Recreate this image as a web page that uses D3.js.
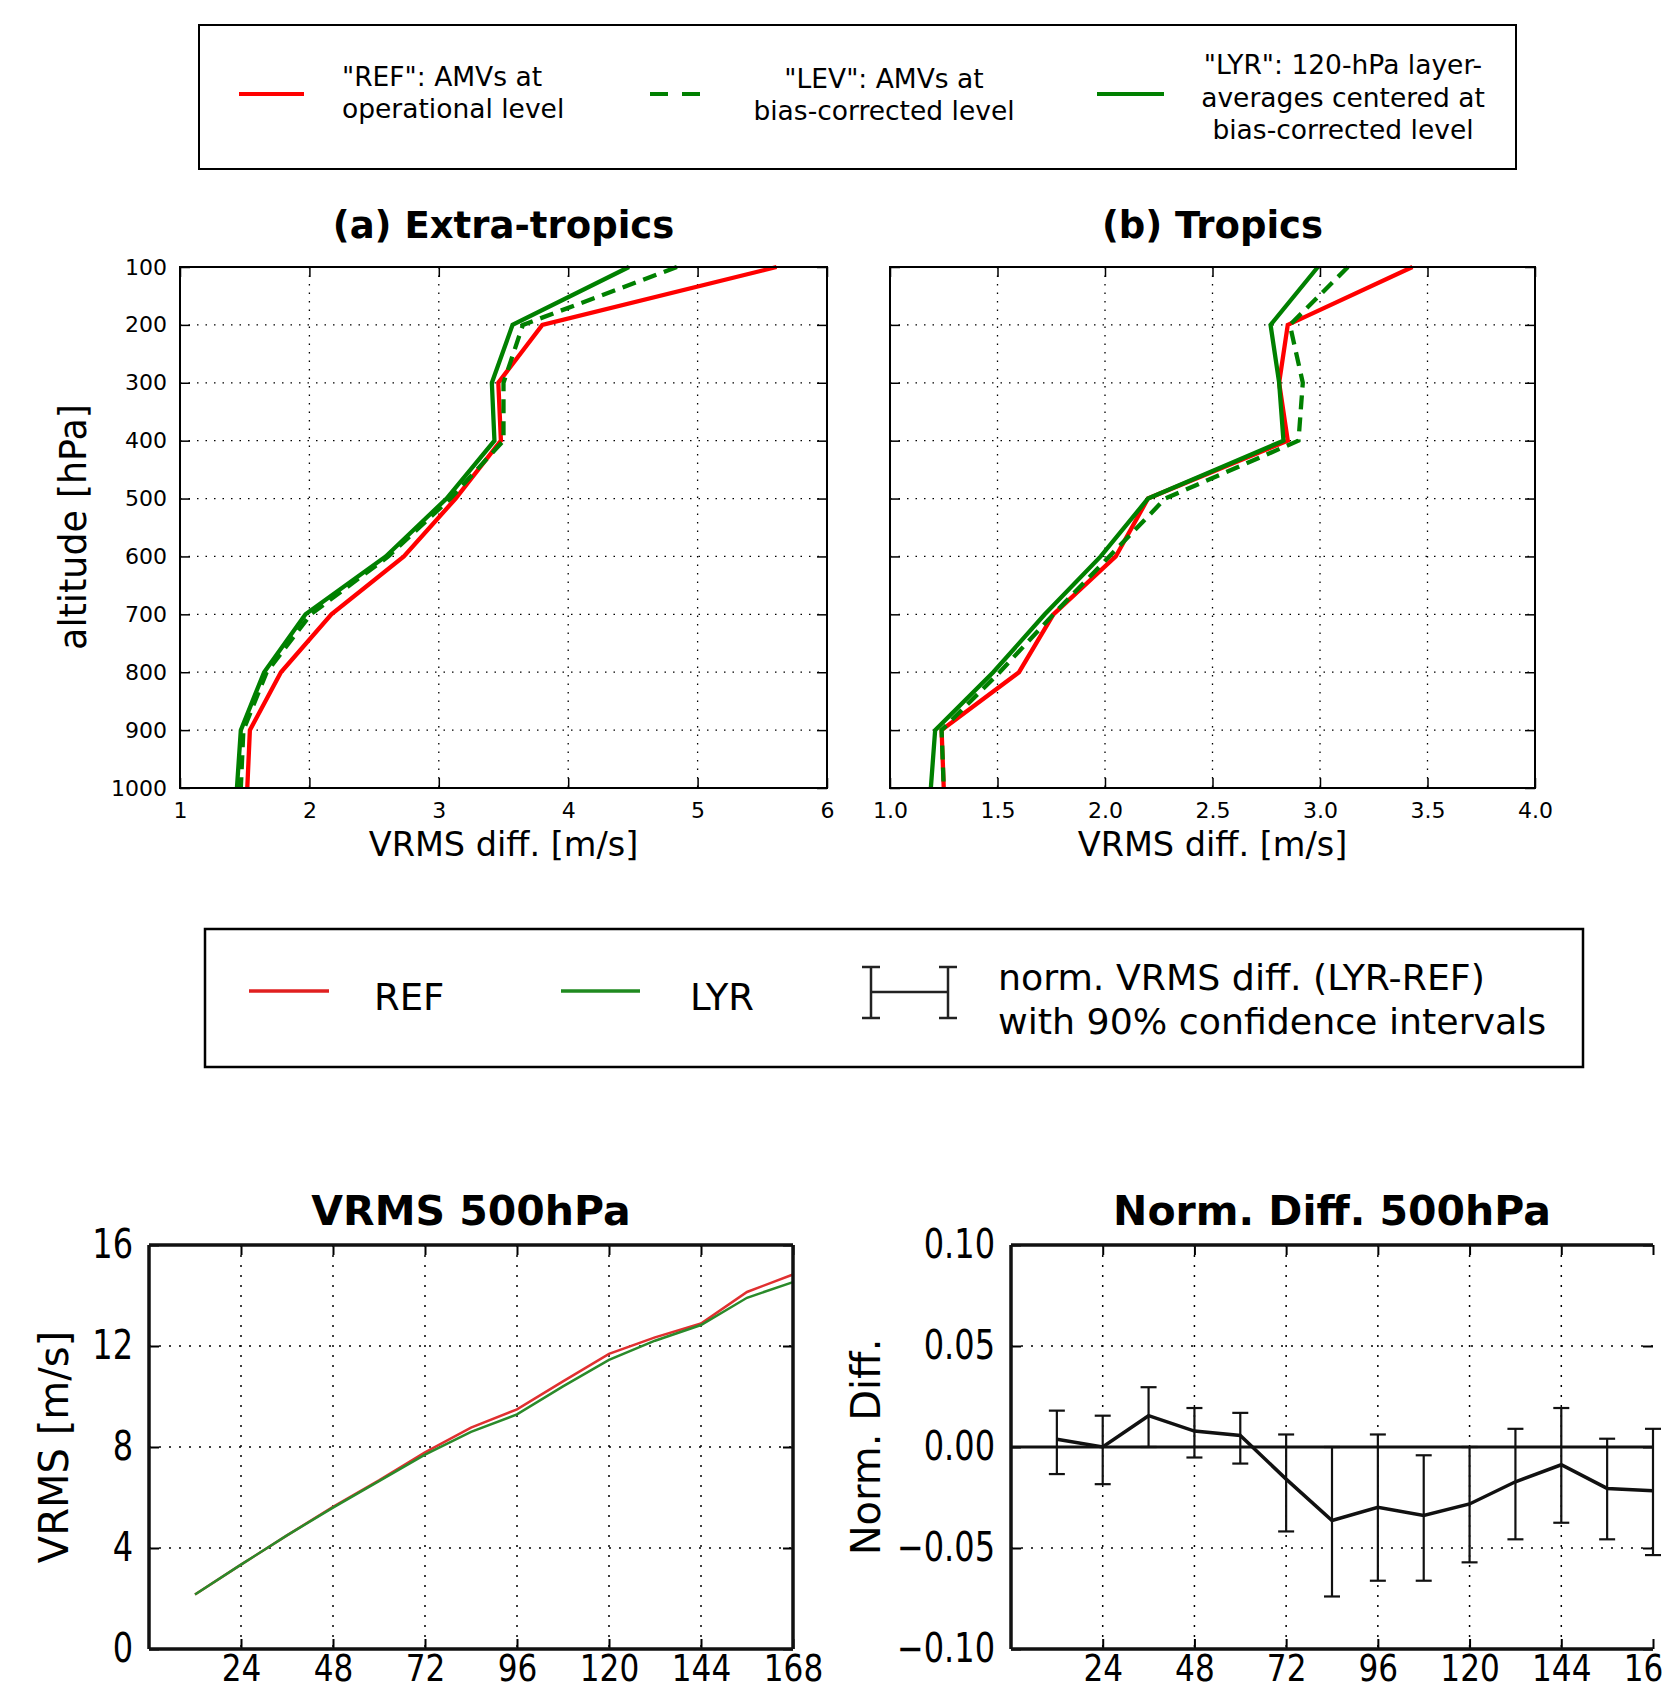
<!DOCTYPE html>
<html><head><meta charset="utf-8">
<script src="https://cdn.jsdelivr.net/npm/d3@7"></script>
<style>
body{margin:0;background:#fff}
svg{display:block}
text{font-family:"DejaVu Sans",sans-serif;fill:#000}
</style>
</head><body>
<svg id="c" width="1664" height="1690"></svg>
<script>
// ---------------- DATA ----------------
const pressureLevels = [100, 200, 300, 400, 500, 600, 700, 800, 900, 1000];
const extraREF = [5.61, 3.80, 3.46, 3.48, 3.13, 2.73, 2.17, 1.78, 1.54, 1.52];
const extraLEV = [4.84, 3.65, 3.50, 3.50, 3.09, 2.61, 2.01, 1.67, 1.49, 1.47];
const extraLYR = [4.47, 3.57, 3.41, 3.43, 3.06, 2.59, 1.97, 1.65, 1.47, 1.44];
const tropREF  = [3.43, 2.85, 2.81, 2.85, 2.20, 2.05, 1.76, 1.60, 1.24, 1.25];
const tropLEV  = [3.13, 2.86, 2.92, 2.90, 2.28, 2.02, 1.76, 1.51, 1.24, 1.25];
const tropLYR  = [2.99, 2.77, 2.81, 2.83, 2.20, 1.98, 1.72, 1.48, 1.21, 1.19];
const extraXTicks = [1, 2, 3, 4, 5, 6];
const tropXTicks = [1.0, 1.5, 2.0, 2.5, 3.0, 3.5, 4.0];

const leadHours = [12, 24, 36, 48, 60, 72, 84, 96, 108, 120, 132, 144, 156, 168];
const vrmsREF = [2.16, 3.34, 4.50, 5.63, 6.68, 7.79, 8.77, 9.49, 10.60, 11.69, 12.34, 12.89, 14.14, 14.83];
const vrmsLYR = [2.16, 3.34, 4.50, 5.60, 6.65, 7.70, 8.60, 9.29, 10.40, 11.45, 12.21, 12.83, 13.91, 14.53];
const normDiff = [0.0038, 0.0000, 0.0155, 0.0079, 0.0057, -0.0159, -0.0364, -0.0298, -0.0339, -0.0282, -0.0172, -0.0088, -0.0205, -0.0216];
const normHi   = [0.0180, 0.0155, 0.0296, 0.0193, 0.0169, 0.0062, 0.0000, 0.0062, -0.0041, 0.0000, 0.0090, 0.0193, 0.0041, 0.0090];
const normLo   = [-0.0134, -0.0184, 0.0000, -0.0052, -0.0082, -0.0418, -0.0740, -0.0662, -0.0662, -0.0571, -0.0457, -0.0375, -0.0457, -0.0535];
const hourTicks = [24, 48, 72, 96, 120, 144, 168];
const vrmsTicks = [0, 4, 8, 12, 16];
const normTicks = [-0.10, -0.05, 0.00, 0.05, 0.10];

const RED = "#ff0000", GREEN = "#008000";
const FONT = '"DejaVu Sans", sans-serif';
const svg = d3.select("#c");

function styleAxis(g, fs, sw) {
  g.attr("font-family", FONT).attr("font-size", fs);
  g.select(".domain").remove();
  g.selectAll(".tick line").attr("stroke", "#000").attr("stroke-width", sw);
  g.selectAll(".tick text").attr("fill", "#000");
}
function condense(g, sx) {
  g.selectAll(".tick text").each(function () {
    const t = d3.select(this);
    const xx = +t.attr("x") || 0;
    t.attr("x", 0).attr("transform", `translate(${xx},0) scale(${sx},1)`);
  });
}

// ---------------- TOP LEGEND ----------------
{
  const g = svg.append("g");
  g.append("rect").attr("x", 199).attr("y", 25).attr("width", 1317).attr("height", 144)
    .attr("fill", "#fff").attr("stroke", "#000").attr("stroke-width", 2);
  g.append("line").attr("x1", 239).attr("x2", 304).attr("y1", 94).attr("y2", 94)
    .attr("stroke", RED).attr("stroke-width", 4);
  g.append("line").attr("x1", 650).attr("x2", 700).attr("y1", 94).attr("y2", 94)
    .attr("stroke", GREEN).attr("stroke-width", 4).attr("stroke-dasharray", "18,14");
  g.append("line").attr("x1", 1097).attr("x2", 1164).attr("y1", 94).attr("y2", 94)
    .attr("stroke", GREEN).attr("stroke-width", 4);
  const t1 = [['"REF": AMVs at', 86], ['operational level', 118]];
  t1.forEach(([s, y]) => g.append("text").attr("x", 342).attr("y", y).attr("font-size", 26.5).text(s));
  const t2 = [['"LEV": AMVs at', 88], ['bias-corrected level', 120]];
  t2.forEach(([s, y]) => g.append("text").attr("x", 884).attr("y", y).attr("font-size", 26.5).attr("text-anchor", "middle").text(s));
  const t3 = [['"LYR": 120-hPa layer-', 74], ['averages centered at', 107], ['bias-corrected level', 139]];
  t3.forEach(([s, y]) => g.append("text").attr("x", 1343).attr("y", y).attr("font-size", 26.5).attr("text-anchor", "middle").text(s));
}

// ---------------- PROFILE PANELS ----------------
function profile(cfg) {
  const Y0 = 267, Y1 = 788;
  const x = d3.scaleLinear().domain(cfg.xd).range([cfg.x0, cfg.x1]);
  const y = d3.scaleLinear().domain([100, 1000]).range([Y0, Y1]);
  const g = svg.append("g");
  const grid = g.append("g").attr("stroke", "#000").attr("stroke-width", 1.3).attr("stroke-dasharray", "1.5,7");
  grid.selectAll(".gx").data(cfg.xt.filter(v => v > cfg.xd[0] && v < cfg.xd[1])).join("line")
    .attr("x1", d => x(d)).attr("x2", d => x(d)).attr("y1", Y0).attr("y2", Y1);
  grid.selectAll(".gy").data(pressureLevels.slice(1, -1)).join("line")
    .attr("y1", d => y(d)).attr("y2", d => y(d)).attr("x1", cfg.x0).attr("x2", cfg.x1);

  const line = d3.line().x(d => x(d[0])).y(d => y(d[1]));
  const series = [
    { v: cfg.ref, c: RED, dash: null },
    { v: cfg.lev, c: GREEN, dash: "14,8" },
    { v: cfg.lyr, c: GREEN, dash: null }
  ];
  series.forEach(s => {
    g.append("path").datum(s.v.map((v, i) => [v, pressureLevels[i]]))
      .attr("d", line).attr("fill", "none").attr("stroke", s.c).attr("stroke-width", 4.3)
      .attr("stroke-linejoin", "miter").attr("stroke-dasharray", s.dash);
  });

  const ab = g.append("g").attr("transform", `translate(0,${Y1})`)
    .call(d3.axisBottom(x).tickValues(cfg.xt).tickFormat(cfg.fmt).tickSizeInner(-10).tickSizeOuter(0).tickPadding(14));
  styleAxis(ab, 22, 1.5);
  const at = g.append("g").attr("transform", `translate(0,${Y0})`)
    .call(d3.axisTop(x).tickValues(cfg.xt).tickFormat("").tickSizeInner(-10).tickSizeOuter(0));
  styleAxis(at, 22, 1.5);
  const al = g.append("g").attr("transform", `translate(${cfg.x0},0)`)
    .call(d3.axisLeft(y).tickValues(pressureLevels).tickFormat(cfg.ylabels ? d3.format("d") : "").tickSizeInner(-10).tickSizeOuter(0).tickPadding(13));
  styleAxis(al, 22, 1.5);
  const ar = g.append("g").attr("transform", `translate(${cfg.x1},0)`)
    .call(d3.axisRight(y).tickValues(pressureLevels).tickFormat("").tickSizeInner(-10).tickSizeOuter(0));
  styleAxis(ar, 22, 1.5);

  g.append("rect").attr("x", cfg.x0).attr("y", Y0).attr("width", cfg.x1 - cfg.x0).attr("height", Y1 - Y0)
    .attr("fill", "none").attr("stroke", "#000").attr("stroke-width", 2);

  g.append("text").attr("x", (cfg.x0 + cfg.x1) / 2).attr("y", 238).attr("text-anchor", "middle")
    .attr("font-size", 37).attr("font-weight", "bold").text(cfg.title);
  g.append("text").attr("x", (cfg.x0 + cfg.x1) / 2).attr("y", 856).attr("text-anchor", "middle")
    .attr("font-size", 33.5).text("VRMS diff. [m/s]");
}

profile({ x0: 180, x1: 827, xd: [1, 6], xt: extraXTicks, fmt: d3.format("d"), ref: extraREF, lev: extraLEV, lyr: extraLYR, title: "(a) Extra-tropics", ylabels: true });
profile({ x0: 890, x1: 1535, xd: [1, 4], xt: tropXTicks, fmt: d3.format(".1f"), ref: tropREF, lev: tropLEV, lyr: tropLYR, title: "(b) Tropics", ylabels: false });
svg.append("text").attr("transform", "translate(86,527) rotate(-90)").attr("text-anchor", "middle")
  .attr("font-size", 36.5).text("altitude [hPa]");

// ---------------- BOTTOM LEGEND ----------------
{
  const g = svg.append("g");
  g.append("rect").attr("x", 205).attr("y", 929).attr("width", 1378).attr("height", 138)
    .attr("fill", "#fff").attr("stroke", "#000").attr("stroke-width", 2.5);
  g.append("line").attr("x1", 249).attr("x2", 329).attr("y1", 991).attr("y2", 991)
    .attr("stroke", "#e02020").attr("stroke-width", 3.5);
  g.append("text").attr("x", 374).attr("y", 1010).attr("font-size", 37).text("REF");
  g.append("line").attr("x1", 561).attr("x2", 640).attr("y1", 991).attr("y2", 991)
    .attr("stroke", "#1f8a1f").attr("stroke-width", 3.5);
  g.append("text").attr("x", 690).attr("y", 1010).attr("font-size", 37).text("LYR");
  const eb = g.append("g").attr("stroke", "#222").attr("stroke-width", 2.5);
  [871, 948].forEach(xx => {
    eb.append("line").attr("x1", xx).attr("x2", xx).attr("y1", 967).attr("y2", 1018);
    eb.append("line").attr("x1", xx - 9).attr("x2", xx + 9).attr("y1", 967).attr("y2", 967);
    eb.append("line").attr("x1", xx - 9).attr("x2", xx + 9).attr("y1", 1018).attr("y2", 1018);
  });
  eb.append("line").attr("x1", 871).attr("x2", 948).attr("y1", 992).attr("y2", 992);
  g.append("text").attr("x", 998).attr("y", 990).attr("font-size", 36.3).text("norm. VRMS diff. (LYR-REF)");
  g.append("text").attr("x", 998).attr("y", 1034).attr("font-size", 36.3).text("with 90% confidence intervals");
}

// ---------------- BOTTOM PANELS ----------------
const BY0 = 1245, BY1 = 1649;
function bottomAxes(g, x, y, x0, x1, yt, fmt) {
  const grid = g.append("g").attr("stroke", "#000").attr("stroke-width", 1.5).attr("stroke-dasharray", "2,8");
  grid.selectAll(".gx").data(hourTicks.filter(v => v < 168)).join("line")
    .attr("x1", d => x(d)).attr("x2", d => x(d)).attr("y1", BY0).attr("y2", BY1);
  grid.selectAll(".gy").data(yt.slice(1, -1)).join("line")
    .attr("y1", d => y(d)).attr("y2", d => y(d)).attr("x1", x0).attr("x2", x1);

  const ab = g.append("g").attr("transform", `translate(0,${BY1})`)
    .call(d3.axisBottom(x).tickValues(hourTicks).tickFormat(d3.format("d")).tickSizeInner(-10).tickSizeOuter(0).tickPadding(5));
  styleAxis(ab, 38, 2); condense(ab, 0.82);
  const at = g.append("g").attr("transform", `translate(0,${BY0})`)
    .call(d3.axisTop(x).tickValues(hourTicks).tickFormat("").tickSizeInner(-10).tickSizeOuter(0));
  styleAxis(at, 38, 2);
  const al = g.append("g").attr("transform", `translate(${x0},0)`)
    .call(d3.axisLeft(y).tickValues(yt).tickFormat(fmt).tickSizeInner(-10).tickSizeOuter(0).tickPadding(16));
  styleAxis(al, 40, 2); condense(al, 0.8);
  const ar = g.append("g").attr("transform", `translate(${x1},0)`)
    .call(d3.axisRight(y).tickValues(yt).tickFormat("").tickSizeInner(-10).tickSizeOuter(0));
  styleAxis(ar, 40, 2);
}
function bottomFrame(g, x0, x1, drawRight) {
  const f = g.append("g").attr("stroke", "#111").attr("stroke-width", 3.5).attr("fill", "none");
  f.append("line").attr("x1", x0).attr("x2", x1).attr("y1", BY0).attr("y2", BY0);
  f.append("line").attr("x1", x0).attr("x2", x1).attr("y1", BY1).attr("y2", BY1);
  f.append("line").attr("x1", x0).attr("x2", x0).attr("y1", BY0).attr("y2", BY1);
  if (drawRight) f.append("line").attr("x1", x1).attr("x2", x1).attr("y1", BY0).attr("y2", BY1);
}

// VRMS 500hPa
{
  const x0 = 149, x1 = 793;
  const x = d3.scaleLinear().domain([0, 168]).range([x0, x1]);
  const y = d3.scaleLinear().domain([0, 16]).range([BY1, BY0]);
  const g = svg.append("g");
  bottomAxes(g, x, y, x0, x1, vrmsTicks, d3.format("d"));
  const line = d3.line().x((d, i) => x(leadHours[i])).y(d => y(d));
  g.append("path").datum(vrmsREF).attr("d", line).attr("fill", "none").attr("stroke", "#e03030").attr("stroke-width", 2.5);
  g.append("path").datum(vrmsLYR).attr("d", line).attr("fill", "none").attr("stroke", "#2a8a2a").attr("stroke-width", 2.5);
  bottomFrame(g, x0, x1, true);
  g.append("text").attr("x", (x0 + x1) / 2).attr("y", 1225).attr("text-anchor", "middle")
    .attr("font-size", 41).attr("font-weight", "bold").text("VRMS 500hPa");
  g.append("text").attr("transform", `translate(68,${(BY0 + BY1) / 2}) rotate(-90)`).attr("text-anchor", "middle")
    .attr("font-size", 40).text("VRMS [m/s]");
}

// Norm. Diff. 500hPa
{
  const x0 = 1011, x1 = 1653;
  const x = d3.scaleLinear().domain([0, 168]).range([x0, x1]);
  const y = d3.scaleLinear().domain([-0.1, 0.1]).range([BY1, BY0]);
  const g = svg.append("g");
  bottomAxes(g, x, y, x0, x1, normTicks, d3.format(".2f"));
  g.append("line").attr("x1", x0).attr("x2", x1).attr("y1", y(0)).attr("y2", y(0))
    .attr("stroke", "#111").attr("stroke-width", 3);
  const eb = g.append("g").attr("stroke", "#111").attr("stroke-width", 2.2);
  leadHours.forEach((h, i) => {
    const xx = x(h);
    eb.append("line").attr("x1", xx).attr("x2", xx).attr("y1", y(normLo[i])).attr("y2", y(normHi[i]));
    eb.append("line").attr("x1", xx - 8).attr("x2", xx + 8).attr("y1", y(normLo[i])).attr("y2", y(normLo[i]));
    eb.append("line").attr("x1", xx - 8).attr("x2", xx + 8).attr("y1", y(normHi[i])).attr("y2", y(normHi[i]));
  });
  const line = d3.line().x((d, i) => x(leadHours[i])).y(d => y(d));
  g.append("path").datum(normDiff).attr("d", line).attr("fill", "none").attr("stroke", "#111").attr("stroke-width", 3.5);
  bottomFrame(g, x0, x1, false);
  g.append("text").attr("x", (x0 + x1) / 2).attr("y", 1225).attr("text-anchor", "middle")
    .attr("font-size", 41).attr("font-weight", "bold").text("Norm. Diff. 500hPa");
  g.append("text").attr("transform", `translate(880,${(BY0 + BY1) / 2}) rotate(-90)`).attr("text-anchor", "middle")
    .attr("font-size", 40).text("Norm. Diff.");
}
</script>
</body></html>
